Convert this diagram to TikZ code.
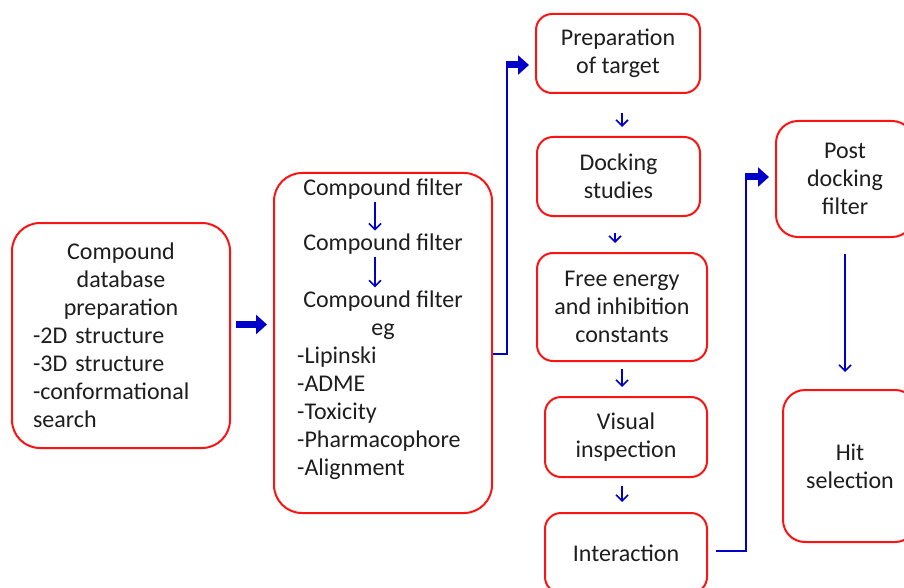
\documentclass[tikz,border=0pt]{standalone}
\usepackage{fontspec}
\setmainfont{Carlito}
\usetikzlibrary{arrows.meta}
\definecolor{dblue}{RGB}{0,0,200}
\definecolor{bred}{RGB}{250,20,20}
\definecolor{txt}{RGB}{30,30,30}
\begin{document}
\begin{tikzpicture}[x=1pt,y=-1pt,
  font=\fontsize{24}{28}\selectfont, text=txt,
  bigbox/.style={draw=bred, line width=2pt, rounded corners=28pt, inner sep=0pt},
  smallbox/.style={draw=bred, line width=2pt, rounded corners=16pt, inner sep=0pt, align=center},
  midbox/.style={draw=bred, line width=2pt, rounded corners=22pt, inner sep=0pt, align=center},
  thin/.style={draw=dblue, line width=1.6pt, -{Straight Barb[length=6pt,width=12pt]}},
  wire/.style={draw=dblue, line width=1.8pt},
  fat/.style={draw=dblue, line width=7pt, -{Triangle[length=11pt,width=19pt]}},
  lbl/.style={inner sep=3pt, align=center}
]
\clip (0,0) rectangle (904,588);
\fill[white] (0,0) rectangle (904,588);

% box 1
\node[bigbox, minimum width=218pt, minimum height=225pt, text width=176pt, align=left] (b1) at (121,335.5)
  {\makebox[176pt]{Compound}\\ \makebox[176pt]{database}\\ \makebox[176pt]{preparation}\\ -2D structure\\ -3D structure\\ -conformational\\ search};

% box 2
\node[bigbox, minimum width=218pt, minimum height=340pt] (b2) at (383,343) {};
\node[lbl] (cf1) at (383,189) {Compound filter};
\node[lbl] (cf2) at (383,244) {Compound filter};
\node[lbl] (cf3) at (383,315) {Compound filter\\eg};
\node[inner sep=0pt, align=left, anchor=west] (lst) at (297,413) {-Lipinski\\-ADME\\-Toxicity\\-Pharmacophore\\-Alignment};
\draw[thin] ([xshift=-8pt]cf1.south) -- ([xshift=-8pt]cf2.north);
\draw[thin] ([xshift=-8pt]cf2.south) -- ([xshift=-8pt]cf3.north);

% column boxes
\node[smallbox, minimum width=164pt, minimum height=79pt] (prep) at (618,53.5) {Preparation\\of target};
\node[smallbox, minimum width=163pt, minimum height=79pt] (dock) at (618.5,176.5) {Docking\\studies};
\node[smallbox, minimum width=170pt, minimum height=108pt] (free) at (622,307) {Free energy\\and inhibition\\constants};
\node[smallbox, minimum width=162pt, minimum height=80pt] (vis) at (626,437) {Visual\\inspection};
\node[smallbox, minimum width=162pt, minimum height=80pt] (inter) at (626,553) {Interaction};

% right boxes
\node[midbox, minimum width=138pt, minimum height=116pt] (post) at (845,179) {Post\\docking\\filter};
\node[midbox, minimum width=134pt, minimum height=152pt] (hit) at (850,466) {Hit\\selection};

% arrows in column
\draw[thin, shorten <=19pt, shorten >=9pt] ([xshift=4pt]prep.south) -- ([xshift=4pt]prep.south |- dock.north);
\draw[thin, shorten <=16pt, shorten >=9pt] ([xshift=-3.5pt]dock.south) -- ([xshift=-3.5pt]dock.south |- free.north);
\draw[thin, shorten <=7pt, shorten >=9pt] (free.south) -- (free.south |- vis.north);
\draw[thin, shorten <=8pt, shorten >=10pt] ([xshift=-4pt]vis.south) -- ([xshift=-4pt]vis.south |- inter.north);
\draw[thin, shorten <=16pt, shorten >=17pt] (post.south) -- (post.south |- hit.north);

% box1 -> box2
\draw[fat, shorten <=5pt, shorten >=6pt] ([yshift=11pt]b1.east) -- ([yshift=11pt]b1.east -| b2.west);

% box2 -> preparation
\coordinate (j1) at (507,65);
\draw[wire] ([yshift=-11pt]b2.east) -| (j1);
\draw[fat, shorten >=6pt] ([xshift=-0.9pt]j1) -- (j1 -| prep.west);

% interaction -> post docking
\coordinate (j2) at (746,177);
\draw[wire] ([shift={(8pt,2pt)}]inter.east) -| (j2);
\draw[fat, shorten >=6pt] ([xshift=-0.9pt]j2) -- (j2 -| post.west);
\end{tikzpicture}
\end{document}
